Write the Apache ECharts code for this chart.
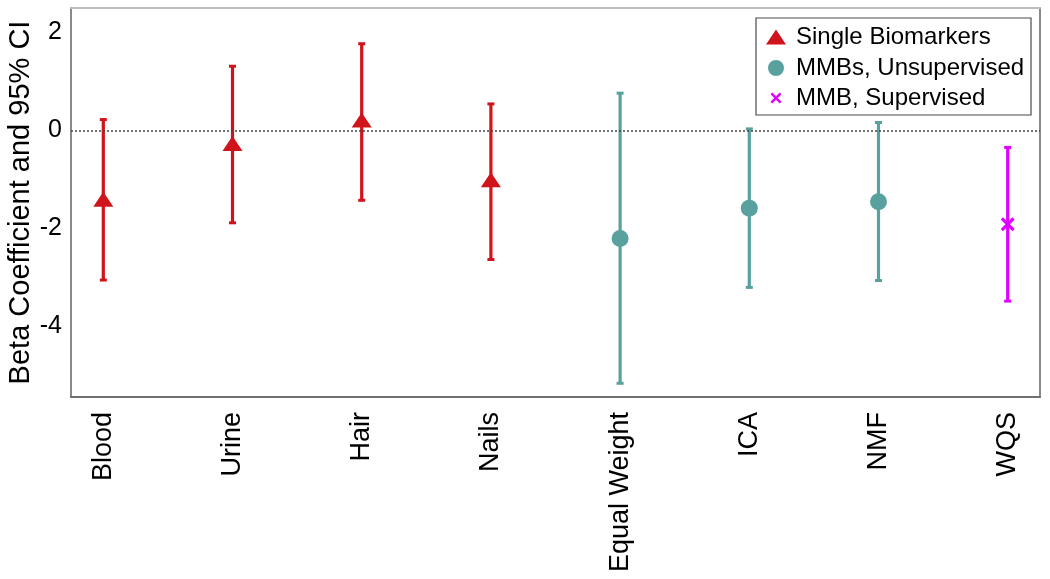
<!DOCTYPE html>
<html>
<head>
<meta charset="utf-8">
<script src="https://cdn.jsdelivr.net/npm/echarts@6/dist/echarts.min.js"></script>
<style>html,body{margin:0;padding:0;background:#fff}#c{width:1050px;height:579px}</style>
</head>
<body>
<div id="c"></div>
<script>
const categories = ['Blood','Urine','Hair','Nails','Equal Weight','ICA','NMF','WQS'];
const beta  = [-1.41, -0.27, 0.21, -1.01, -2.21, -1.59, -1.46, -1.92];
const lower = [-3.06, -1.89, -1.43, -2.64, -5.17, -3.21, -3.07, -3.49];
const upper = [0.22, 1.31, 1.77, 0.54, 0.76, 0.03, 0.16, -0.35];
const groupNames = ['Single Biomarkers', 'MMBs, Unsupervised', 'MMB, Supervised'];
const groupOf = [0, 0, 0, 0, 1, 1, 1, 2];
const yTicks = [-4, -2, 0, 2];

const FONT = 'Liberation Sans, Arial, Helvetica, sans-serif';
const colors = ['#D0141C', '#58A19E', '#E000FF'];
const crossPath = 'path://M0,1.6 L1.6,0 L5,3.4 L8.4,0 L10,1.6 L6.6,5 L10,8.4 L8.4,10 L5,6.6 L1.6,10 L0,8.4 L3.4,5 Z';
const symbols = ['triangle', 'circle', crossPath];
const symSizes = [[20, 15], 17, 14];

const chart = echarts.init(document.getElementById('c'));

const series = [];
groupNames.forEach((g, gi) => {
  const idx = categories.map((c, i) => i).filter(i => groupOf[i] === gi);
  series.push({
    name: g,
    type: 'custom',
    z: 3,
    silent: true,
    data: idx.map(i => [i + 1, lower[i], upper[i]]),
    renderItem: function (params, api) {
      const x = api.value(0);
      const lo = api.coord([x, api.value(1)]);
      const hi = api.coord([x, api.value(2)]);
      const col = colors[gi];
      return {
        type: 'group',
        children: [
          { type: 'line', shape: { x1: lo[0], y1: lo[1], x2: hi[0], y2: hi[1] }, style: { stroke: col, lineWidth: 3.2 } },
          { type: 'rect', shape: { x: lo[0] - 3.5, y: lo[1] - 1.5, width: 7, height: 3 }, style: { fill: col } },
          { type: 'rect', shape: { x: hi[0] - 3.5, y: hi[1] - 1.5, width: 7, height: 3 }, style: { fill: col } }
        ]
      };
    }
  });
  series.push({
    name: g,
    type: 'scatter',
    z: 4,
    symbol: symbols[gi],
    symbolSize: symSizes[gi],
    itemStyle: { color: colors[gi], opacity: 1 },
    data: idx.map(i => [i + 1, beta[i]])
  });
});

series[0].markLine = {
  silent: true,
  symbol: 'none',
  label: { show: false },
  lineStyle: { color: '#444', width: 1.5, type: [2, 2] },
  data: [{ yAxis: 0 }]
};

const legendCommon = {
  orient: 'vertical',
  z: 6,
  padding: 0,
  selectedMode: false,
  textStyle: { fontFamily: FONT, fontSize: 24, color: '#000', lineHeight: 24 }
};

const option = {
  animation: false,
  backgroundColor: '#fff',
  grid: { left: 71, right: 10, top: 8, bottom: 182, outerBoundsMode: 'none', containLabel: false },
  xAxis: [{
    type: 'value',
    min: 0.75, max: 8.25,
    splitLine: { show: false },
    axisLine: { show: true, onZero: false, lineStyle: { color: '#707070', width: 2 } },
    axisTick: { show: false },
    axisLabel: {
      customValues: categories.map((c, i) => i + 1),
      formatter: v => categories[Math.round(v) - 1] || '',
      rotate: 90,
      margin: 15,
      fontFamily: FONT, fontSize: 27, color: '#000'
    }
  }, {
    type: 'value', position: 'top',
    min: 0.75, max: 8.25,
    splitLine: { show: false },
    axisLine: { show: true, onZero: false, lineStyle: { color: '#bdbdbd', width: 2 } },
    axisTick: { show: false }, axisLabel: { show: false }
  }],
  yAxis: [{
    type: 'value',
    min: -5.45, max: 2.5,
    splitLine: { show: false },
    axisLine: { show: true, onZero: false, lineStyle: { color: '#8a8a8a', width: 2 } },
    axisTick: { show: false },
    axisLabel: {
      customValues: yTicks,
      margin: 9,
      fontFamily: FONT, fontSize: 25, color: '#000'
    },
    name: 'Beta Coefficient and 95% CI',
    nameLocation: 'middle',
    nameGap: 36,
    nameMoveOverlap: false,
    nameTextStyle: { fontFamily: FONT, fontSize: 29, color: '#000' }
  }, {
    type: 'value', position: 'right',
    min: -5.45, max: 2.5,
    splitLine: { show: false },
    axisLine: { show: true, onZero: false, lineStyle: { color: '#8a8a8a', width: 2 } },
    axisTick: { show: false }, axisLabel: { show: false }
  }],
  graphic: [{
    type: 'rect', z: 5,
    shape: { x: 756, y: 18, width: 275, height: 97 },
    style: { fill: '#fff', stroke: '#4a4a4a', lineWidth: 1.2 }
  }],
  legend: [
    Object.assign({}, legendCommon, {
      left: 766, top: 25, itemWidth: 20, itemHeight: 15,
      data: [{ name: groupNames[0], icon: 'triangle', itemStyle: { color: colors[0] } }],
      textStyle: Object.assign({}, legendCommon.textStyle, { padding: [0, 0, 0, 5] })
    }),
    Object.assign({}, legendCommon, {
      left: 768, top: 56, itemWidth: 16, itemHeight: 16,
      data: [{ name: groupNames[1], icon: 'circle', itemStyle: { color: colors[1] } }],
      textStyle: Object.assign({}, legendCommon.textStyle, { padding: [0, 0, 0, 7] })
    }),
    Object.assign({}, legendCommon, {
      left: 770.5, top: 86, itemWidth: 11, itemHeight: 11,
      data: [{ name: groupNames[2], icon: crossPath, itemStyle: { color: colors[2] } }],
      textStyle: Object.assign({}, legendCommon.textStyle, { padding: [0, 0, 0, 9.5] })
    })
  ],
  series: series
};

chart.setOption(option);
</script>
</body>
</html>
